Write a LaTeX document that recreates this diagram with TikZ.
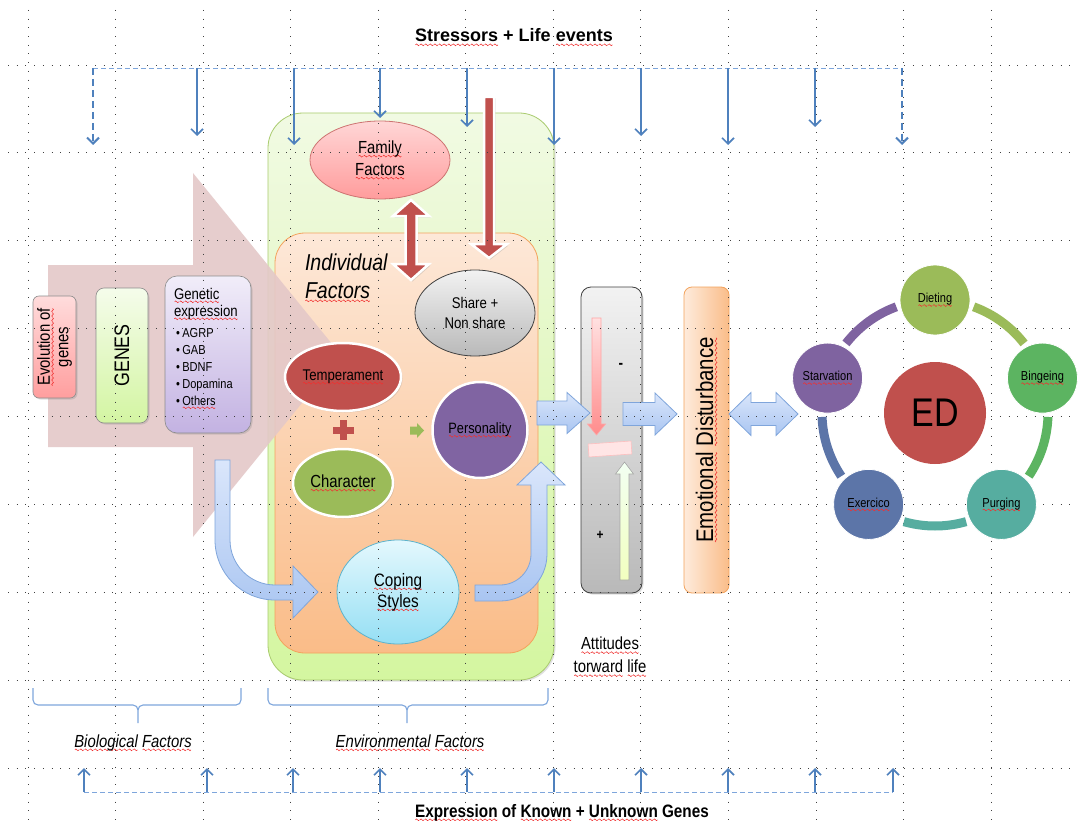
\documentclass[tikz,border=0pt]{standalone}
\usepackage{fontspec}
\setmainfont[FakeStretch=0.85]{Liberation Sans}
\newfontfamily\widefont{Liberation Sans}
\usetikzlibrary{arrows.meta,calc,shapes.geometric,shadows}

\definecolor{accred}{HTML}{C0504D}
\definecolor{accgreen}{HTML}{9BBB59}
\definecolor{accpurple}{HTML}{8064A2}
\definecolor{accblue}{HTML}{4F81BD}
\definecolor{dashblue}{HTML}{7EA6DC}
\definecolor{spellred}{HTML}{F03030}
\definecolor{bluetop}{HTML}{DAE6FB}
\definecolor{bluebot}{HTML}{A9C5F1}
\definecolor{blueedge}{HTML}{7FA5DB}
\definecolor{bingcol}{HTML}{5CB461}
\definecolor{purgcol}{HTML}{56ADA0}
\definecolor{exercol}{HTML}{5C75A8}
\definecolor{starcol}{HTML}{7F63A0}
\definecolor{pinkarr}{HTML}{E4C8C8}
\definecolor{greentop}{HTML}{F1FAE3}
\definecolor{greenbot}{HTML}{D4F6A0}
\definecolor{greenedge}{HTML}{A9CB6E}
\definecolor{orgtop}{HTML}{FDE8D8}
\definecolor{orgbot}{HTML}{FABC88}
\definecolor{orgedge}{HTML}{F3A35C}
\definecolor{famtop}{HTML}{FFD6D6}
\definecolor{fambot}{HTML}{FF9C9C}
\definecolor{graytop}{HTML}{F2F2F2}
\definecolor{graybot}{HTML}{B9B9B9}
\definecolor{coptop}{HTML}{E4F8FD}
\definecolor{copbot}{HTML}{95DFF4}
\definecolor{copedge}{HTML}{5DB3CC}
\definecolor{evtop}{HTML}{FFDCDC}
\definecolor{evbot}{HTML}{FF9E9E}
\definecolor{gentop}{HTML}{F5FCEB}
\definecolor{genbot}{HTML}{D3F5A2}
\definecolor{exptop}{HTML}{F1EDF9}
\definecolor{expbot}{HTML}{C3B2E2}
\definecolor{edleft}{HTML}{FEEBDC}
\definecolor{edright}{HTML}{FABD89}

% red spelling squiggle under a word
\newsavebox\wavebox
\AtBeginDocument{\sbox\wavebox{\pgfpicture\pgfsetbaseline{0pt}\pgfsetcolor{spellred}\pgfsetlinewidth{.55pt}%
  \pgfpathmoveto{\pgfpoint{0pt}{0pt}}\pgfpathsine{\pgfpoint{1pt}{.9pt}}\pgfpathcosine{\pgfpoint{1pt}{-.9pt}}%
  \pgfpathsine{\pgfpoint{1pt}{-.9pt}}\pgfpathcosine{\pgfpoint{1pt}{.9pt}}\pgfusepath{stroke}%
  \pgfusepath{use as bounding box}\endpgfpicture}}
\newcommand\sq[1]{\leavevmode\setbox0\hbox{#1}\rlap{\lower2.8pt\hbox to\wd0{\xleaders\copy\wavebox\hfill}}\box0\relax}
\newcommand\fsz[2]{\fontsize{#1}{#2}\selectfont}

% block arrows: style, x, y, length, half shaft, half head, head length
\newcommand\arrR[7]{\path[#1] (#2,#3-#5) -- (#2+#4-#7,#3-#5) -- (#2+#4-#7,#3-#6) -- (#2+#4,#3) -- (#2+#4-#7,#3+#6) -- (#2+#4-#7,#3+#5) -- (#2,#3+#5) -- cycle;}
\newcommand\arrLR[7]{\path[#1] (#2,#3) -- (#2+#7,#3-#6) -- (#2+#7,#3-#5) -- (#2+#4-#7,#3-#5) -- (#2+#4-#7,#3-#6) -- (#2+#4,#3) -- (#2+#4-#7,#3+#6) -- (#2+#4-#7,#3+#5) -- (#2+#7,#3+#5) -- (#2+#7,#3+#6) -- cycle;}
\newcommand\arrD[7]{\path[#1] (#2-#5,#3) -- (#2-#5,#3+#4-#7) -- (#2-#6,#3+#4-#7) -- (#2,#3+#4) -- (#2+#6,#3+#4-#7) -- (#2+#5,#3+#4-#7) -- (#2+#5,#3) -- cycle;}
\newcommand\arrU[7]{\path[#1] (#2-#5,#3) -- (#2-#5,#3-#4+#7) -- (#2-#6,#3-#4+#7) -- (#2,#3-#4) -- (#2+#6,#3-#4+#7) -- (#2+#5,#3-#4+#7) -- (#2+#5,#3) -- cycle;}
\newcommand\arrUD[7]{\path[#1] (#2,#3) -- (#2+#6,#3+#7) -- (#2+#5,#3+#7) -- (#2+#5,#3+#4-#7) -- (#2+#6,#3+#4-#7) -- (#2,#3+#4) -- (#2-#6,#3+#4-#7) -- (#2-#5,#3+#4-#7) -- (#2-#5,#3+#7) -- (#2-#6,#3+#7) -- cycle;}

\tikzset{
  softshadow/.style={drop shadow={shadow xshift=1.5pt, shadow yshift=-1.5pt, opacity=.25}},
  lbox/.style={rectangle, rounded corners=#1, draw=black!45, line width=.6pt, softshadow},
  pale/.style={ellipse, line width=.8pt, align=center},
  solid/.style={ellipse, draw=white, line width=2.5pt, align=center, softshadow},
  cyc/.style={circle, minimum size=70pt, draw=white, line width=.8pt, font=\fsz{13}{15}},
  bluearrow/.style={top color=bluetop, bottom color=bluebot, draw=blueedge, line width=.8pt},
  redarrow/.style={fill=accred, draw=white, line width=2.5pt, softshadow},
  stressarr/.style={draw=accblue, line width=1.6pt, -{Straight Barb[length=6pt,width=12pt]}},
  dashline/.style={draw=dashblue, line width=.9pt, dash pattern=on 5pt off 3pt},
  dasharr/.style={draw=accblue, line width=2pt, dash pattern=on 7pt off 4pt, -{Straight Barb[length=6pt,width=12pt]}},
  gridline/.style={draw=black!75, line width=.9pt, dash pattern=on .9pt off 7.8pt},
  bracepath/.style={draw=dashblue, line width=1.1pt},
}

\begin{document}
\begin{tikzpicture}[x=1pt, y=-1pt, every node/.style={inner sep=0pt, outer sep=0pt}]
\useasboundingbox (0,0) rectangle (1078,821);
\fill[white] (0,0) rectangle (1078,821);

% environment boxes
\node[rectangle, rounded corners=35pt, minimum width=286pt, minimum height=567pt, top color=greentop, bottom color=greenbot, draw=greenedge, line width=.8pt, softshadow] (envbox) at (411,396.5) {};
\node[rectangle, rounded corners=30pt, minimum width=263pt, minimum height=420pt, top color=orgtop, bottom color=orgbot, draw=orgedge, line width=.8pt] (indbox) at (406.5,443) {};

% big genes arrow
\path[fill=pinkarr, opacity=.9] (48,265) -- (193,265) -- (193,173) -- (341,355) -- (193,537) -- (193,447) -- (48,447) -- cycle;

% biological boxes
\node[lbox=6pt, minimum width=43pt, minimum height=102pt, top color=evtop, bottom color=evbot] (evol) at (54.5,347) {};
\node[rotate=90, align=center, font=\fsz{17.5}{18.5}] (evoltext) at (evol) {\sq{Evolution of}\\genes};
\node[lbox=8pt, minimum width=52pt, minimum height=135pt, top color=gentop, bottom color=genbot] (genes) at (122,355.5) {};
\node[rotate=90, font=\fsz{21}{23}] (genestext) at (genes) {GENES};
\node[lbox=12pt, minimum width=86pt, minimum height=157pt, top color=exptop, bottom color=expbot] (genexp) at (208,354.5) {};
\node[anchor=base west, font=\fsz{15.5}{17.5}] (gentitle) at (174,299) {\sq{Genetic}};
\node[anchor=base west, font=\fsz{15.5}{17.5}] (gentitleb) at (174,316) {\sq{expression}};
\foreach \g [count=\i] in {AGRP,GAB,BDNF,Dopamina,{\sq{Others}}}
  \node[anchor=base west, font=\fsz{13}{15}] (gene\i) at (176,320+17*\i) {\textbullet\hspace{2.5pt}\g};

% individual factors
\node[anchor=base west, font=\itshape\fsz{23}{26}] (indiv) at (305,270) {Individual};
\node[anchor=base west, font=\itshape\fsz{23}{26}] (indivf) at (305,298) {\sq{Factors}};

\node[pale, minimum width=140pt, minimum height=78pt, top color=famtop, bottom color=fambot, draw=accred!80, font=\fsz{17.5}{22}] (family) at (380,160) {\sq{Family}\\\sq{Factors}};
\node[pale, minimum width=120pt, minimum height=86pt, top color=graytop, bottom color=graybot, draw=black!75, font=\fsz{15.5}{19.5}] (share) at (475,313) {Share +\\Non share};
\node[pale, minimum width=122pt, minimum height=104pt, top color=coptop, bottom color=copbot, draw=copedge, font=\fsz{18}{21}] (coping) at (398,592) {\sq{Coping}\\\sq{Styles}};

% curved arrows towards and from coping styles
\path[bluearrow] (215,460) -- (215,540) arc[start angle=180, end angle=90, radius=60] -- (293,600) -- (293,618) -- (318,592) -- (293,566) -- (293,585) -- (275,585) arc[start angle=90, end angle=180, radius=45] -- (230,460) -- cycle;
\path[bluearrow] (475,585) -- (500,585) arc[start angle=90, end angle=0, radius=31] -- (531,485) -- (517,485) -- (541,462) -- (565,485) -- (547,485) -- (547,554) arc[start angle=0, end angle=90, radius=47] -- (475,601) -- cycle;

% red arrows
\arrUD{redarrow}{411}{200}{80}{5.5}{18}{16}
\arrD{redarrow}{489}{97}{161}{5}{18}{14}

% attitudes box
\node[rectangle, rounded corners=10pt, minimum width=61pt, minimum height=306pt, top color=graytop, bottom color=graybot, draw=black!75, line width=.8pt, softshadow] (attbox) at (611.5,440) {};
\arrD{top color=red!12, bottom color=red!45, draw=red!35, line width=.6pt}{596.5}{318}{117}{4.5}{9}{11}
\arrU{top color=green!5!white, bottom color=green!20!yellow!25, draw=black!35, line width=.6pt}{624.5}{580}{118}{4.5}{9}{12}
\node[rectangle, rotate=4, minimum width=43pt, minimum height=13pt, fill=red!10, draw=red!25, line width=.6pt] (balance) at (610,449) {};
\node[font=\bfseries\fsz{16}{18}] (minus) at (621,366) {-};
\node[font=\bfseries\fsz{14}{16}] (plus) at (600,535) {+};
\node[align=center, font=\fsz{17.5}{23}] (attitudes) at (610,657) {\sq{Attitudes}\\\sq{torward} \sq{life}};

% emotional disturbance
\node[rectangle, rounded corners=8pt, minimum width=45pt, minimum height=306pt, left color=edleft, right color=edright, draw=orgedge, line width=.8pt] (edbox) at (706.5,440) {};
\node[rotate=90, font=\fsz{24}{26}] (edtext) at (edbox) {\sq{Emotional} \sq{Disturbance}};

\arrR{bluearrow}{537}{413}{53}{12}{20.5}{23}
\arrR{bluearrow}{623}{414}{54}{11.5}{21}{22}
\arrLR{bluearrow}{729}{414}{69}{11.5}{21.5}{22}

% grid
\foreach \i in {0,...,11}
  \draw[gridline] (28+87.55*\i,10) -- (28+87.55*\i,821);
\foreach \j in {0,...,8}
  \draw[gridline] (8,65+87.88*\j) -- (1078,65+87.88*\j);

% temperament, character, personality
\node[solid, minimum width=116pt, minimum height=68pt, fill=accred, font=\fsz{15.5}{18}] (temper) at (343,377) {\sq{Temperament}};
\node[solid, minimum width=100pt, minimum height=68pt, fill=accgreen, font=\fsz{17.5}{20}] (charac) at (343,483) {\sq{Character}};
\node[solid, minimum width=95pt, minimum height=96pt, fill=accpurple, font=\fsz{15}{18}] (person) at (480,430) {\sq{Personality}};
\fill[accred] (333,426.5) rectangle (354,433.5);
\fill[accred] (340,420) rectangle (347,440);
\arrR{fill=accgreen}{410}{430.5}{14}{4}{7.5}{7}

% eating disorder cycle
\node[circle, minimum size=102pt, fill=accred, font=\fsz{40}{44}] (ed) at (935,413) {ED};
\foreach \a/\b/\c in {198/270/starcol, 270/342/accgreen, 342/414/bingcol, 54/126/purgcol, 126/198/exercol}
  \draw[line width=9pt, \c] ($(ed)+(\a+20:113)$) arc[start angle=\a+20, end angle=\b-20, radius=113];
\node[cyc, fill=accgreen] (dieting) at ($(ed)+(270:113)$) {\sq{Dieting}};
\node[cyc, fill=bingcol] (bingeing) at ($(ed)+(342:113)$) {\sq{Bingeing}};
\node[cyc, fill=purgcol] (purging) at ($(ed)+(54:113)$) {\sq{Purging}};
\node[cyc, fill=exercol] (exercico) at ($(ed)+(126:113)$) {\sq{Exercico}};
\node[cyc, fill=starcol] (starvation) at ($(ed)+(198:113)$) {\sq{Starvation}};

% stressors
\node[anchor=base, font=\widefont\bfseries\fsz{18}{20}] (stress) at (514,42) {\sq{Stressors} + Life \sq{events}};
\coordinate (sLeft) at (93,68);
\coordinate (sRight) at (902,68);
\coordinate (sLeftEnd) at (93,145);
\coordinate (sRightEnd) at (902,145);
\draw[dashline] (sLeft) -- (sRight);
\draw[dasharr] (sLeft) -- (sLeftEnd);
\draw[dasharr] (sRight) -- (sRightEnd);
\foreach \x/\y [count=\i] in {197/136, 294/145, 380/118, 467/127, 554/145, 641/136, 728/145, 815/127}{
  \coordinate (sTop\i) at (\x,68);
  \coordinate (sEnd\i) at (\x,\y);
  \draw[stressarr] (sTop\i) -- (sEnd\i);
}

% genes expression
\node[anchor=base, font=\bfseries\fsz{18}{20}] (express) at (562,817) {\sq{Expression} of \sq{Known} + \sq{Unknown} Genes};
\coordinate (eLeft) at (84,792);
\coordinate (eRight) at (893,792);
\draw[dashline] (eLeft) -- (eRight);
\foreach \x [count=\i] in {84,207,293,380,467,554,641,728,815,893}{
  \coordinate (eBot\i) at (\x,792);
  \coordinate (eTip\i) at (\x,768);
  \draw[stressarr] (eBot\i) -- (eTip\i);
}

% braces
\foreach \l/\m/\r in {33/138/241, 268/407/548}{
  \draw[bracepath] (\l,688) -- (\l,700) arc[start angle=180, end angle=90, radius=5] -- (\m-5,705) arc[start angle=270, end angle=360, radius=5] -- (\m,723);
  \draw[bracepath] (\m,710) arc[start angle=180, end angle=270, radius=5] -- (\r-5,705) arc[start angle=90, end angle=0, radius=5] -- (\r,688);
}
\node[anchor=base, font=\itshape\fsz{17.5}{20}] (bio) at (133,747) {\sq{Biological} \sq{Factors}};
\node[anchor=base, font=\itshape\fsz{17.5}{20}] (env) at (410,747) {\sq{Environmental} \sq{Factors}};
\end{tikzpicture}
\end{document}
